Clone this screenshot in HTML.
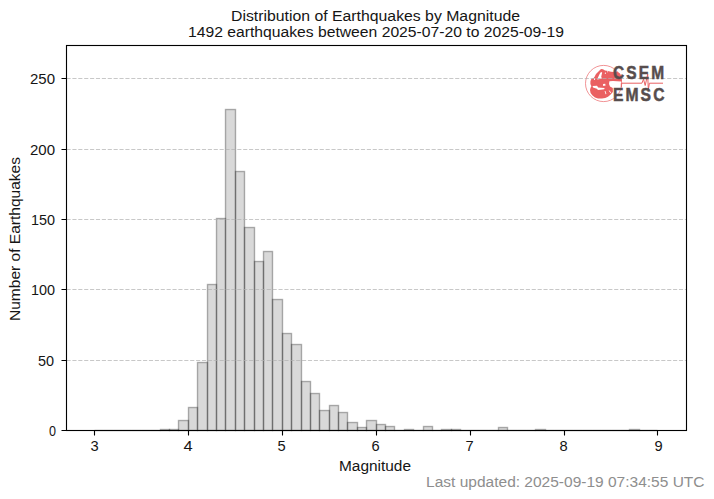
<!DOCTYPE html>
<html><head><meta charset="utf-8"><title>Distribution of Earthquakes by Magnitude</title>
<style>
html,body{margin:0;padding:0;background:#fff;width:714px;height:499px;overflow:hidden}
svg{display:block}
text{font-family:"Liberation Sans",sans-serif;font-size:14.72px;fill:#151515}
text.g{fill:#8e8e8e}
.bars rect{fill:#808080;fill-opacity:.3;stroke:#000;stroke-opacity:.3;stroke-width:1.3889}
.bars path.z{fill:none;stroke:#000;stroke-opacity:.3;stroke-width:1.3889}
.grid path{fill:none;stroke:#b0b0b0;stroke-opacity:.7;stroke-width:1.1111;stroke-dasharray:4.1111 1.7778}
</style></head><body>
<svg width="714" height="499" viewBox="0 0 714 499">
<rect width="714" height="499" fill="#fff"/>
<g class="bars"><path d="M94.5 430.5H103.5" class="z"/><path d="M103.5 430.5H113.5" class="z"/><path d="M113.5 430.5H122.5" class="z"/><path d="M122.5 430.5H131.5" class="z"/><path d="M131.5 430.5H141.5" class="z"/><path d="M141.5 430.5H150.5" class="z"/><path d="M150.5 430.5H160.5" class="z"/><rect x="160.5" y="429.5" width="9" height="1"/><rect x="169.5" y="429.5" width="9" height="1"/><rect x="178.5" y="420.5" width="10" height="10"/><rect x="188.5" y="407.5" width="9" height="23"/><rect x="197.5" y="362.5" width="10" height="68"/><rect x="207.5" y="284.5" width="9" height="146"/><rect x="216.5" y="218.5" width="9" height="212"/><rect x="225.5" y="109.5" width="10" height="321"/><rect x="235.5" y="171.5" width="9" height="259"/><rect x="244.5" y="227.5" width="10" height="203"/><rect x="254.5" y="261.5" width="9" height="169"/><rect x="263.5" y="251.5" width="9" height="179"/><rect x="272.5" y="299.5" width="10" height="131"/><rect x="282.5" y="333.5" width="9" height="97"/><rect x="291.5" y="344.5" width="10" height="86"/><rect x="301.5" y="381.5" width="9" height="49"/><rect x="310.5" y="393.5" width="9" height="37"/><rect x="319.5" y="410.5" width="10" height="20"/><rect x="329.5" y="405.5" width="9" height="25"/><rect x="338.5" y="412.5" width="9" height="18"/><rect x="347.5" y="422.5" width="10" height="8"/><rect x="357.5" y="427.5" width="9" height="3"/><rect x="366.5" y="420.5" width="10" height="10"/><rect x="376.5" y="424.5" width="9" height="6"/><rect x="385.5" y="426.5" width="9" height="4"/><path d="M394.5 430.5H404.5" class="z"/><rect x="404.5" y="429.5" width="9" height="1"/><path d="M413.5 430.5H423.5" class="z"/><rect x="423.5" y="426.5" width="9" height="4"/><path d="M432.5 430.5H441.5" class="z"/><rect x="441.5" y="429.5" width="10" height="1"/><rect x="451.5" y="429.5" width="9" height="1"/><path d="M460.5 430.5H470.5" class="z"/><path d="M470.5 430.5H479.5" class="z"/><path d="M479.5 430.5H488.5" class="z"/><path d="M488.5 430.5H498.5" class="z"/><rect x="498.5" y="427.5" width="9" height="3"/><path d="M507.5 430.5H517.5" class="z"/><path d="M517.5 430.5H526.5" class="z"/><path d="M526.5 430.5H535.5" class="z"/><rect x="535.5" y="429.5" width="10" height="1"/><path d="M545.5 430.5H554.5" class="z"/><path d="M554.5 430.5H564.5" class="z"/><path d="M564.5 430.5H573.5" class="z"/><path d="M573.5 430.5H582.5" class="z"/><path d="M582.5 430.5H592.5" class="z"/><path d="M592.5 430.5H601.5" class="z"/><path d="M601.5 430.5H611.5" class="z"/><path d="M611.5 430.5H620.5" class="z"/><path d="M620.5 430.5H629.5" class="z"/><rect x="629.5" y="429.5" width="10" height="1"/><path d="M639.5 430.5H648.5" class="z"/><path d="M648.5 430.5H657.5" class="z"/></g>
<g>
<circle cx="603.6" cy="83.5" r="18.1" fill="none" stroke="#ea6062" stroke-width="0.9" stroke-opacity="0.75"/>
<path fill="#ea6062" d="M601 69L603 69.2L605 70.4L608 71L611 71.8L614 72L617 71.6L620 73.5L621.8 77L621.9 80L621.7 81.6L617 81.2L613 81L609.4 81.3L609 84L610 86.4L612.8 88L612.9 92L610.4 94.8L608 96.8L605.2 98L602 98.6L598 98.4L595 97.5L592.5 95.6L590.6 93L590 90L590.5 88L591.4 86.2L590.4 84L590.4 81.5L591 79.6L592 78.6L593.6 78L594.6 76.8L595.2 75.4L596 74L597 73L598 72L599 71L600 70Z"/>
<path fill="#fff" d="M601 72L602.2 72.6L601.6 75L601.2 77L602 78.2L600 79L597.2 79.6L598 77.6L599 75.2L600 73.2ZM592.6 86L597 85.8L598.2 87.4L601 87.8L604.6 88L604.2 89.2L600.6 89.8L598 90L596.8 88.8L593 87.6ZM603 84.1L605.2 83.8L605.6 85.4L603.2 86ZM605 72.6L606 72.8L605.6 74L604.8 73.8ZM607.2 71.2L608.2 71.4L608 72.2L607.2 72.2ZM608.6 90.6L609.4 90.4L611.2 92.6L610.4 93ZM604.6 91L605.4 91L606.4 94L605.6 94.2ZM594 78.2L595.2 78L595 79.8L594 80Z"/>
<path fill="none" stroke="#ea6062" stroke-width="1" d="M621.3 87.2V83.2H641.9L643.5 79.2L645.2 85.5L647.7 74.2L648.3 89.8L649.4 83.2H663"/>
</g>

<g class="grid"><path d="M66.5 430.5H686.5"/><path d="M66.5 360.5H686.5"/><path d="M66.5 289.5H686.5"/><path d="M66.5 219.5H686.5"/><path d="M66.5 149.5H686.5"/><path d="M66.5 78.5H686.5"/></g>
<text transform="translate(613.0 78.5) scale(0.88 1)" style="font-family:'Liberation Sans',sans-serif;font-weight:bold;font-size:17.6px;fill:#574d4d;stroke:#574d4d;stroke-width:0.5px" textLength="58.1" lengthAdjust="spacing">CSEM</text>
<text transform="translate(612.9 100.9) scale(0.88 1)" style="font-family:'Liberation Sans',sans-serif;font-weight:bold;font-size:17.8px;fill:#574d4d;stroke:#574d4d;stroke-width:0.5px" textLength="58.6" lengthAdjust="spacing">EMSC</text>
<path d="M94.5 430.5V435.5M188.5 430.5V435.5M282.5 430.5V435.5M376.5 430.5V435.5M470.5 430.5V435.5M564.5 430.5V435.5M657.5 430.5V435.5M61.5 430.5H66.5M61.5 360.5H66.5M61.5 289.5H66.5M61.5 219.5H66.5M61.5 149.5H66.5M61.5 78.5H66.5" fill="none" stroke="#000" stroke-width="1.1111"/>
<rect x="66.5" y="45.5" width="620" height="385" fill="none" stroke="#000" stroke-width="1.1111"/>
<text x="231" y="21" textLength="289.003" lengthAdjust="spacingAndGlyphs" text-anchor="start">Distribution of Earthquakes by Magnitude</text><text x="188" y="37" textLength="376.003" lengthAdjust="spacingAndGlyphs" text-anchor="start">1492 earthquakes between 2025-07-20 to 2025-09-19</text><text x="339" y="471" textLength="72.014" lengthAdjust="spacingAndGlyphs" text-anchor="start">Magnitude</text><text x="0" y="0" textLength="164.006" lengthAdjust="spacingAndGlyphs" text-anchor="start" transform="translate(20.000,321.000) rotate(-90)">Number of Earthquakes</text><text x="426.1" y="487" textLength="278.415" lengthAdjust="spacingAndGlyphs" text-anchor="start" class="g">Last updated: 2025-09-19 07:34:55 UTC</text><text x="49" y="436" textLength="7" lengthAdjust="spacingAndGlyphs" text-anchor="start">0</text><text x="38" y="366" textLength="16.071" lengthAdjust="spacingAndGlyphs" text-anchor="start">50</text><text x="31" y="295" textLength="24.025" lengthAdjust="spacingAndGlyphs" text-anchor="start">100</text><text x="31" y="225" textLength="24.025" lengthAdjust="spacingAndGlyphs" text-anchor="start">150</text><text x="30" y="155" textLength="25.043" lengthAdjust="spacingAndGlyphs" text-anchor="start">200</text><text x="30" y="84" textLength="25.043" lengthAdjust="spacingAndGlyphs" text-anchor="start">250</text><text x="90.5" y="451" textLength="8.167" lengthAdjust="spacingAndGlyphs" text-anchor="start">3</text><text x="183.5" y="451" textLength="9.143" lengthAdjust="spacingAndGlyphs" text-anchor="start">4</text><text x="277.5" y="451" textLength="8.167" lengthAdjust="spacingAndGlyphs" text-anchor="start">5</text><text x="371.5" y="451" textLength="8.167" lengthAdjust="spacingAndGlyphs" text-anchor="start">6</text><text x="465.5" y="451" textLength="8.167" lengthAdjust="spacingAndGlyphs" text-anchor="start">7</text><text x="559.5" y="451" textLength="8.167" lengthAdjust="spacingAndGlyphs" text-anchor="start">8</text><text x="654.5" y="451" textLength="8.167" lengthAdjust="spacingAndGlyphs" text-anchor="start">9</text>
</svg>
</body></html>
